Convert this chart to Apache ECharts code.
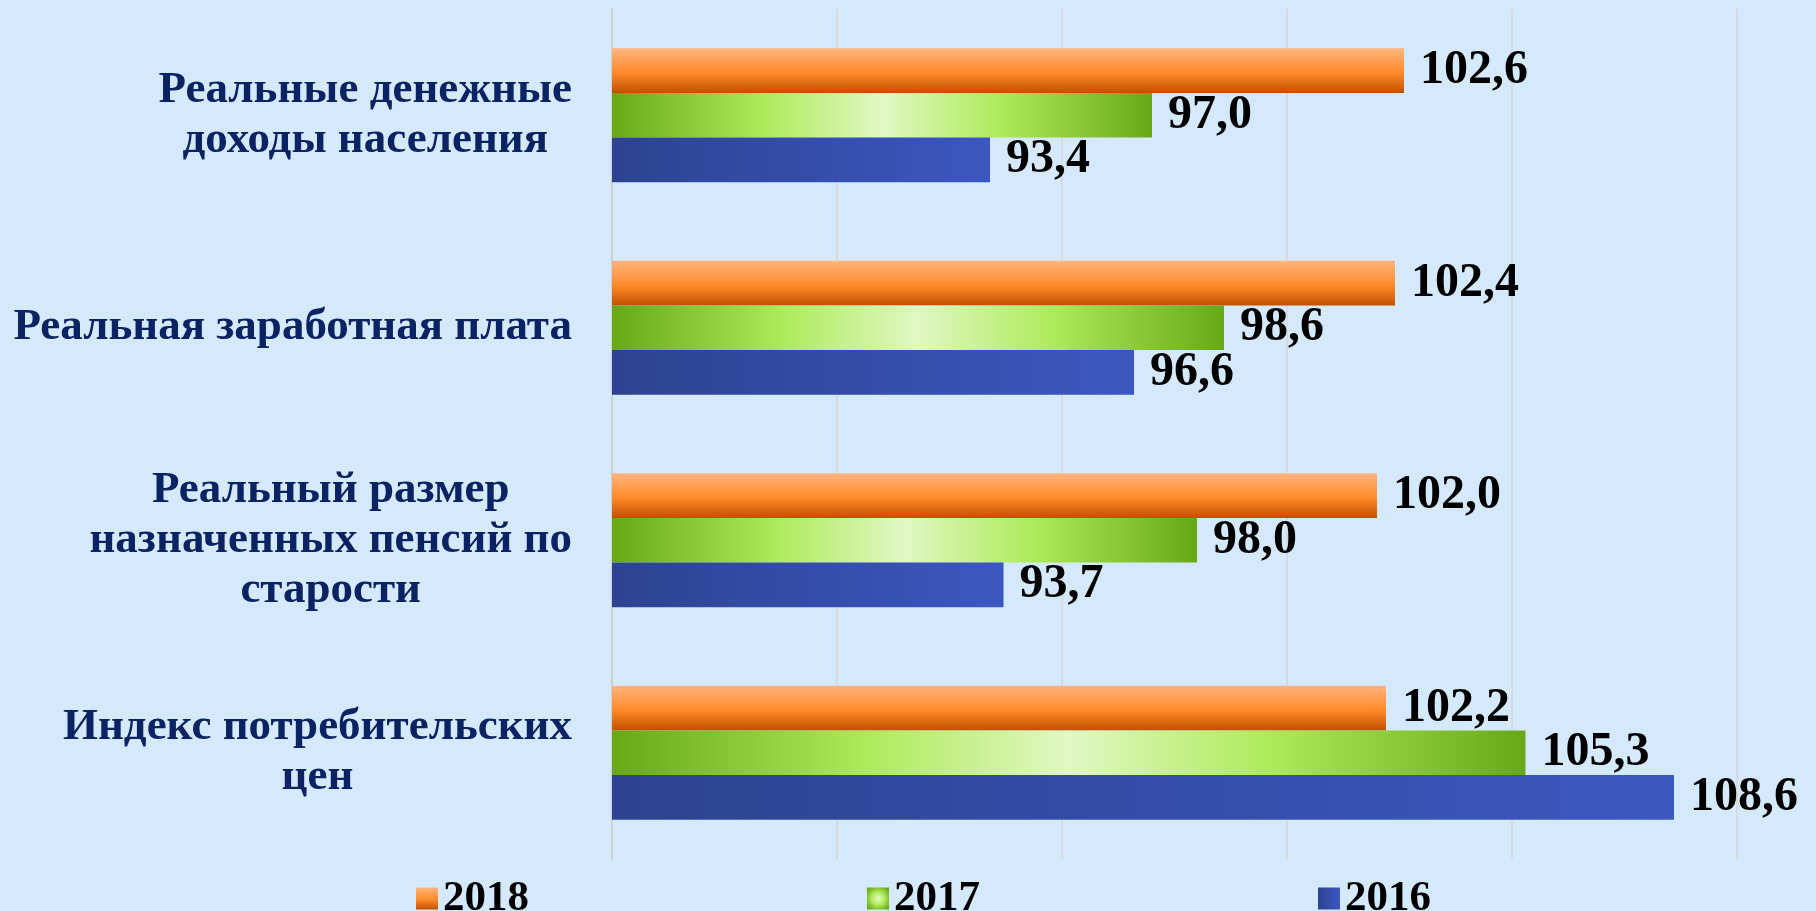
<!DOCTYPE html>
<html lang="ru">
<head>
<meta charset="utf-8">
<title>Индексы</title>
<script src="https://cdn.jsdelivr.net/npm/echarts@6/dist/echarts.min.js"></script>
<style>
    html, body {
        margin: 0;
        padding: 0;
        background: #d5e9fd;
    }
    #chart {
        width: 1816px;
        height: 911px;
    }
</style>
</head>
<body>
<div id="chart"></div>
<script>
const categories = [
    "Реальные денежные\nдоходы населения",
    "Реальная заработная плата",
    "Реальный размер\nназначенных пенсий по\nстарости",
    "Индекс потребительских\nцен"
];
const seriesNames = ["2018", "2017", "2016"];
const values2018 = [102.6, 102.4, 102.0, 102.2];
const values2017 = [97.0, 98.6, 98.0, 105.3];
const values2016 = [93.4, 96.6, 93.7, 108.6];

const SERIF = "'Liberation Serif', 'Times New Roman', serif";

const orangeFill = new echarts.graphic.LinearGradient(0, 0, 0, 1, [
    { offset: 0, color: "#ffb47e" },
    { offset: 0.55, color: "#ff8a2a" },
    { offset: 1, color: "#c25000" }
]);

const greenFill = new echarts.graphic.LinearGradient(0, 0, 1, 0, [
    { offset: 0, color: "#68a818" },
    { offset: 0.28, color: "#aeea5a" },
    { offset: 0.5, color: "#e0f8c4" },
    { offset: 0.72, color: "#aeea5a" },
    { offset: 1, color: "#68a818" }
]);

// legend swatch for 2017 is a round glow, not the bar's stripe
const greenSwatch = new echarts.graphic.RadialGradient(0.5, 0.5, 0.6, [
    { offset: 0, color: "#e6fac8" },
    { offset: 0.5, color: "#aeea5a" },
    { offset: 1, color: "#6aaa1a" }
]);

const blueFill = new echarts.graphic.LinearGradient(0, 0, 1, 0, [
    { offset: 0, color: "#2d4390" },
    { offset: 1, color: "#3c57c0" }
]);

const formatValue = (v) => v.toFixed(1).replace(".", ",");

const makeSeries = (name, data, fill) => ({
    name: name,
    type: "bar",
    data: data,
    barGap: "0%",
    barCategoryGap: "37%",
    itemStyle: { color: fill },
    label: {
        show: true,
        position: "right",
        distance: 16,
        formatter: (p) => formatValue(p.value),
        fontFamily: SERIF,
        fontWeight: "bold",
        fontSize: 48,
        color: "#000000"
    }
});

const chart = echarts.init(document.getElementById("chart"));

chart.setOption({
    backgroundColor: "#d5e9fd",
    animation: false,
    grid: {
        left: 612,
        right: 79,
        top: 9,
        bottom: 52
    },
    legend: {
        data: [
            { name: seriesNames[0] },
            { name: seriesNames[1], itemStyle: { color: greenSwatch } },
            { name: seriesNames[2] }
        ],
        left: 411,
        top: 872,
        itemWidth: 22,
        itemHeight: 22,
        itemGap: 338,
        icon: "rect",
        textStyle: {
            fontFamily: SERIF,
            fontWeight: "bold",
            fontSize: 43,
            color: "#000000"
        }
    },
    xAxis: {
        type: "value",
        min: 85,
        max: 110,
        interval: 5,
        axisLabel: { show: false },
        axisTick: { show: false },
        axisLine: { show: false },
        splitLine: {
            show: true,
            lineStyle: { color: "#d6d6d6", width: 1.5 }
        }
    },
    yAxis: {
        type: "category",
        data: categories,
        inverse: true,
        axisTick: { show: false },
        axisLine: {
            show: true,
            lineStyle: { color: "#cfcfcf", width: 2 }
        },
        axisLabel: {
            margin: 40,
            formatter: (value) => value.split("\n").map((line) => `{c|${line}}`).join("\n"),
            rich: {
                c: {
                    align: "center",
                    fontFamily: SERIF,
                    fontWeight: "bold",
                    fontSize: 45,
                    lineHeight: 50,
                    color: "#0b2263"
                }
            }
        }
    },
    series: [
        makeSeries("2018", values2018, orangeFill),
        makeSeries("2017", values2017, greenFill),
        makeSeries("2016", values2016, blueFill)
    ]
});
</script>
</body>
</html>
